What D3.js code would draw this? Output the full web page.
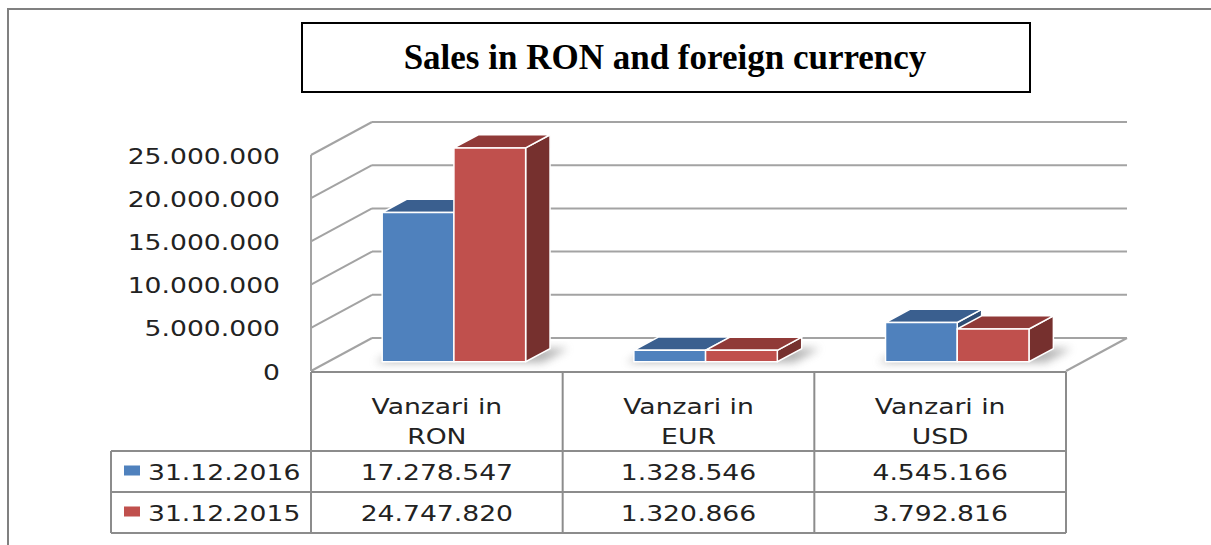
<!DOCTYPE html>
<html>
<head>
<meta charset="utf-8">
<script src="https://cdn.jsdelivr.net/npm/d3@7"></script>
<style>
  body { margin: 0; background: #fff; }
  svg { display: block; }
  .tick-label, .cell { font-family: "DejaVu Sans", Verdana, sans-serif; font-size: 22px; fill: #222; }
  .grid { stroke: #a3a3a3; stroke-width: 2; fill: none; }
  .tbl { stroke: #8c8c8c; stroke-width: 2; fill: none; }
</style>
</head>
<body>
<div id="chart"></div>
<script>
// data
const categories = ["Vanzari in RON", "Vanzari in EUR", "Vanzari in USD"];
const seriesNames = ["31.12.2016", "31.12.2015"];
const sales2016 = [17278547, 1328546, 4545166];
const sales2015 = [24747820, 1320866, 3792816];
const yTicks = [0, 5000000, 10000000, 15000000, 20000000, 25000000];
const chartTitle = "Sales in RON and foreign currency";

const W = 1211, H = 545;
const stretch = 1.21; // the source picture is a bit wide, text too

const fmt = d3.formatLocale({ decimal: ",", thousands: ".", grouping: [3], currency: ["", ""] }).format(",d");

const svg = d3.select("#chart").append("svg").attr("width", W).attr("height", H);

const defs = svg.append("defs");
defs.append("filter").attr("id", "blur").attr("x", "-50%").attr("y", "-50%").attr("width", "200%").attr("height", "200%")
  .append("feGaussianBlur").attr("stdDeviation", 4);

// outer frame (only top & left are visible in the crop)
svg.append("path").attr("d", `M8,${H} L8,9 L${W},9`).attr("fill", "none").attr("stroke", "#808080").attr("stroke-width", 2);

// title box
svg.append("rect").attr("x", 302).attr("y", 23).attr("width", 728).attr("height", 69)
  .attr("fill", "#fff").attr("stroke", "#000").attr("stroke-width", 2);
svg.append("text")
  .attr("x", 665).attr("y", 69)
  .attr("text-anchor", "middle")
  .style("font-family", "'Liberation Serif', 'Times New Roman', serif")
  .style("font-weight", "bold").style("font-size", "35px").style("fill", "#000")
  .text(chartTitle);

// scales: front plane, depth goes back by (dx,dy)
const x = d3.scaleBand().domain(categories).range([311, 1066]);
const y = d3.scaleLinear().domain([0, 25000000]).range([371, 155]);
const depthX = 61, depthY = -33;
const proj = (px, v, z) => [px + z * depthX, y(v) + z * depthY];
const poly = (pts) => "M" + pts.map((p) => p.join(",")).join("L") + "Z";

// walls & grid
const grid = svg.append("g");
grid.selectAll(".back").data(yTicks).enter().append("line").attr("class", "grid")
  .attr("x1", (d) => proj(311, d, 1)[0]).attr("y1", (d) => proj(311, d, 1)[1])
  .attr("x2", (d) => proj(1066, d, 1)[0]).attr("y2", (d) => proj(1066, d, 1)[1]);
grid.selectAll(".side").data(yTicks).enter().append("line").attr("class", "grid")
  .attr("x1", (d) => proj(311, d, 0)[0]).attr("y1", (d) => proj(311, d, 0)[1])
  .attr("x2", (d) => proj(311, d, 1)[0]).attr("y2", (d) => proj(311, d, 1)[1]);
grid.append("line").attr("class", "grid")
  .attr("x1", 311).attr("y1", y(25000000)).attr("x2", 311).attr("y2", y(0));
grid.append("line").attr("class", "grid")
  .attr("x1", proj(1066, 0, 0)[0]).attr("y1", proj(1066, 0, 0)[1])
  .attr("x2", proj(1066, 0, 1)[0]).attr("y2", proj(1066, 0, 1)[1]);

// y labels
svg.append("g").selectAll("text").data(yTicks).enter().append("text")
  .attr("class", "tick-label")
  .attr("text-anchor", "end").attr("dominant-baseline", "central")
  .attr("transform", (d) => `translate(280,${y(d) + 1}) scale(${stretch},1)`)
  .text((d) => fmt(d));

// bars
const series = [
  { name: seriesNames[0], values: sales2016, front: "#4f81bd", top: "#3a5f8f", side: "#2e4c74" },
  { name: seriesNames[1], values: sales2015, front: "#c0504d", top: "#903a38", side: "#76302e" }
];
const groupW = x.bandwidth() * 0.57;
const barW = groupW / series.length;
const z0 = 0.28, z1 = 0.68;

const bars = svg.append("g");
categories.forEach((cat, i) => {
  const gx = x(cat) + (x.bandwidth() - groupW) / 2;
  // soft shadow on the floor
  bars.append("path")
    .attr("d", poly([proj(gx - 6, 0, z0 - 0.02), proj(gx + groupW + 18, 0, z0 - 0.02),
                     proj(gx + groupW + 18, 0, z1), proj(gx - 6, 0, z1)]))
    .attr("fill", "#777").attr("opacity", 0.55).attr("filter", "url(#blur)");
  series.forEach((s, j) => {
    const v = s.values[i];
    const x0 = gx + j * barW, x1 = x0 + barW;
    const g = bars.append("g").attr("stroke", "#fff").attr("stroke-width", 1.5).attr("stroke-linejoin", "round");
    g.append("path").attr("fill", s.side)
      .attr("d", poly([proj(x1, 0, z0), proj(x1, 0, z1), proj(x1, v, z1), proj(x1, v, z0)]));
    g.append("path").attr("fill", s.top)
      .attr("d", poly([proj(x0, v, z0), proj(x1, v, z0), proj(x1, v, z1), proj(x0, v, z1)]));
    g.append("path").attr("fill", s.front)
      .attr("d", poly([proj(x0, 0, z0), proj(x1, 0, z0), proj(x1, v, z0), proj(x0, v, z0)]));
  });
});

// data table
const tblTop = 372, headBottom = 451, rowH = 41, legendLeft = 111;
const tbl = svg.append("g");
const rowLines = [headBottom, headBottom + rowH, headBottom + 2 * rowH];
tbl.selectAll(".h").data(rowLines).enter().append("line").attr("class", "tbl")
  .attr("x1", legendLeft).attr("x2", 1066).attr("y1", (d) => d).attr("y2", (d) => d);
tbl.append("line").attr("class", "tbl").attr("x1", 311).attr("x2", 1066).attr("y1", tblTop).attr("y2", tblTop);
tbl.append("line").attr("class", "tbl").attr("x1", legendLeft).attr("x2", legendLeft)
  .attr("y1", headBottom).attr("y2", rowLines[2]);
const colEdges = categories.map((c) => x(c)).concat([x.range()[1]]);
tbl.selectAll(".v").data(colEdges).enter().append("line").attr("class", "tbl")
  .attr("x1", (d) => d).attr("x2", (d) => d).attr("y1", tblTop).attr("y2", rowLines[2]);

// header labels, two lines
categories.forEach((cat) => {
  const cut = cat.lastIndexOf(" ");
  const lines = [cat.slice(0, cut), cat.slice(cut + 1)];
  const cx = x(cat) + x.bandwidth() / 2;
  lines.forEach((ln, k) => {
    tbl.append("text").attr("class", "cell").attr("text-anchor", "middle")
      .attr("transform", `translate(${cx},${414 + k * 30}) scale(${stretch},1)`)
      .text(ln);
  });
});

// value rows + legend keys
series.forEach((s, j) => {
  const base = headBottom + j * rowH + rowH / 2 + 8;
  tbl.append("rect").attr("x", 124).attr("y", base - 14).attr("width", 16).attr("height", 10).attr("fill", s.front);
  tbl.append("text").attr("class", "cell")
    .attr("transform", `translate(148,${base}) scale(${stretch},1)`)
    .text(s.name);
  categories.forEach((cat, i) => {
    tbl.append("text").attr("class", "cell").attr("text-anchor", "middle")
      .attr("transform", `translate(${x(cat) + x.bandwidth() / 2},${base}) scale(${stretch},1)`)
      .text(fmt(s.values[i]));
  });
});
</script>
</body>
</html>
